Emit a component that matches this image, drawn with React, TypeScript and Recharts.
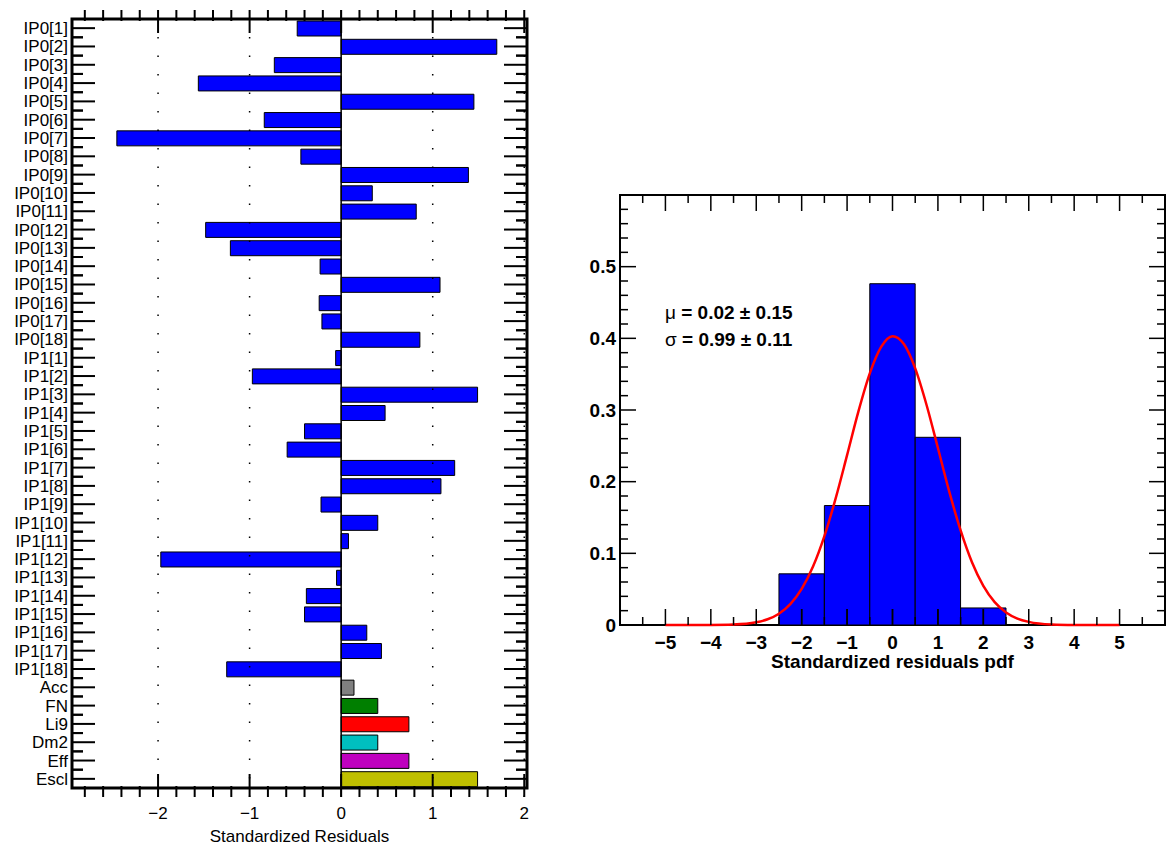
import React from 'react';
import {
  BarChart,
  ComposedChart,
  Bar,
  Line,
  Cell,
  XAxis,
  YAxis,
  ReferenceLine,
  ReferenceArea,
} from 'recharts';

// ---- left panel: standardized residual per nuisance parameter ----
const PARAMS = [
  'IP0[1]', 'IP0[2]', 'IP0[3]', 'IP0[4]', 'IP0[5]', 'IP0[6]', 'IP0[7]', 'IP0[8]', 'IP0[9]',
  'IP0[10]', 'IP0[11]', 'IP0[12]', 'IP0[13]', 'IP0[14]', 'IP0[15]', 'IP0[16]', 'IP0[17]', 'IP0[18]',
  'IP1[1]', 'IP1[2]', 'IP1[3]', 'IP1[4]', 'IP1[5]', 'IP1[6]', 'IP1[7]', 'IP1[8]', 'IP1[9]',
  'IP1[10]', 'IP1[11]', 'IP1[12]', 'IP1[13]', 'IP1[14]', 'IP1[15]', 'IP1[16]', 'IP1[17]', 'IP1[18]',
  'Acc', 'FN', 'Li9', 'Dm2', 'Eff', 'Escl',
];
const RESIDUALS = [
  -0.48, 1.7, -0.73, -1.56, 1.45, -0.84, -2.45, -0.44, 1.39,
  0.34, 0.82, -1.48, -1.21, -0.23, 1.08, -0.24, -0.21, 0.86,
  -0.06, -0.97, 1.49, 0.48, -0.4, -0.59, 1.24, 1.09, -0.22,
  0.4, 0.08, -1.97, -0.05, -0.38, -0.4, 0.28, 0.44, -1.25,
  0.14, 0.4, 0.74, 0.4, 0.74, 1.49,
];
const RESID_TICKS = [
  -2.8, -2.6, -2.4, -2.2, -2, -1.8, -1.6, -1.4, -1.2, -1, -0.8, -0.6, -0.4, -0.2,
  0, 0.2, 0.4, 0.6, 0.8, 1, 1.2, 1.4, 1.6, 1.8, 2,
];
const RESID_GRID = [-2, -1, 1, 2];

// ---- right panel: pdf of the residuals + fitted gaussian ----
const BIN_CENTERS = [-2, -1, 0, 1, 2];
const BIN_PDF = [0.0714, 0.1667, 0.4762, 0.2619, 0.0238];
const CURVE_X = [
  -5, -4.5, -4, -3.5, -3, -2.75, -2.5, -2.25, -2, -1.75, -1.5, -1.25, -1, -0.75, -0.5, -0.25,
  0, 0.25, 0.5, 0.75, 1, 1.25, 1.5, 1.75, 2, 2.25, 2.5, 2.75, 3, 3.5, 4, 4.5, 5,
];
const CURVE_Y = [
  0, 0, 0.0001, 0.0007, 0.0038, 0.008, 0.0158, 0.0291, 0.0503, 0.0815, 0.124, 0.177, 0.237, 0.298, 0.351, 0.388,
  0.403, 0.392, 0.358, 0.307, 0.247, 0.186, 0.132, 0.0876, 0.0546, 0.0319, 0.0175, 0.009, 0.0044, 0.0008, 0.0001, 0, 0,
];
const PDF_X_TICKS = [
  -5.5, -5, -4.5, -4, -3.5, -3, -2.5, -2, -1.5, -1, -0.5, 0, 0.5, 1, 1.5, 2, 2.5, 3, 3.5, 4, 4.5, 5, 5.5,
];
const PDF_Y_TICKS = [
  0, 0.02, 0.04, 0.06, 0.08, 0.1, 0.12, 0.14, 0.16, 0.18, 0.2, 0.22, 0.24, 0.26, 0.28,
  0.3, 0.32, 0.34, 0.36, 0.38, 0.4, 0.42, 0.44, 0.46, 0.48, 0.5, 0.52, 0.54, 0.56, 0.58,
];

const FONT = '"Liberation Sans", Arial, Helvetica, sans-serif';

const BAR_COLORS: Record<string, string> = {
  Acc: '#808080',
  FN: '#007f00',
  Li9: '#ff0000',
  Dm2: '#00bfbf',
  Eff: '#bf00bf',
  Escl: '#bfbf00',
};
const IP_COLOR = '#0000ff';

// left panel geometry (chart sits at page origin)
const L_W = 540;
const L_H = 847;
const L_TOP = 10;
const L_LEFT = 72;
const L_RIGHT = 527;
const L_BOTTOM = 797;
const L_PAD = 9;
const L_STEP = (L_BOTTOM - L_TOP - 2 * L_PAD) / PARAMS.length;
const L_FONT = 17;

// right panel geometry (page coords, chart placed at R_X0)
const R_X0 = 560;
const R_W = 607;
const R_H = 700;
const R_TOP = 195;
const R_LEFT = 620;
const R_RIGHT = 1165;
const R_BOTTOM = 625;
// same edges in the chart's own svg coords
const RL = R_LEFT - R_X0;
const RR = R_RIGHT - R_X0;
const R_YMAX = 0.6;
// major x tick length (16px) expressed in y data units, used to redraw ticks over the bins
const R_TICK_DATA = (16 / (R_BOTTOM - R_TOP)) * R_YMAX;

const isInt = (v: number) => Math.abs(v - Math.round(v)) < 1e-6;
const fmtMinus = (v: number) => (v < 0 ? `\u2212${Math.abs(v)}` : `${v}`);

const ParamTick = (props: any) => {
  const { y, payload } = props;
  const half = L_STEP / 2;
  return (
    <g stroke="#000" strokeWidth={2}>
      <text
        x={L_LEFT - 4}
        y={y}
        dy={6}
        textAnchor="end"
        fontSize={L_FONT}
        fontFamily={FONT}
        fill="#000"
        stroke="none"
      >
        {payload.value}
      </text>
      <line x1={L_LEFT} x2={L_LEFT + 23} y1={y} y2={y} />
      <line x1={L_RIGHT} x2={L_RIGHT - 23} y1={y} y2={y} />
      <line x1={L_LEFT} x2={L_LEFT + 11} y1={y - half} y2={y - half} />
      <line x1={L_RIGHT} x2={L_RIGHT - 11} y1={y - half} y2={y - half} />
      <line x1={L_LEFT} x2={L_LEFT + 11} y1={y + half} y2={y + half} />
      <line x1={L_RIGHT} x2={L_RIGHT - 11} y1={y + half} y2={y + half} />
    </g>
  );
};

const ResidTick = (props: any) => {
  const { x, payload } = props;
  const v = payload.value as number;
  const major = isInt(v);
  const len = major ? 23 : 11;
  return (
    <g stroke="#000" strokeWidth={2}>
      <line x1={x} x2={x} y1={L_BOTTOM} y2={L_BOTTOM - len} />
      <line x1={x} x2={x} y1={L_TOP} y2={L_TOP + len} />
      {major && (
        <text
          x={x}
          y={L_BOTTOM + 22}
          textAnchor="middle"
          fontSize={L_FONT}
          fontFamily={FONT}
          fill="#000"
          stroke="none"
        >
          {fmtMinus(Math.round(v))}
        </text>
      )}
    </g>
  );
};

const PdfXTick = (props: any) => {
  const { x, payload } = props;
  const v = payload.value as number;
  const major = isInt(v);
  const len = major ? 16 : 8;
  return (
    <g stroke="#000" strokeWidth={1.5}>
      <line x1={x} x2={x} y1={R_BOTTOM} y2={R_BOTTOM - len} />
      <line x1={x} x2={x} y1={R_TOP} y2={R_TOP + len} />
      {major && (
        <text
          x={x}
          y={R_BOTTOM + 24}
          textAnchor="middle"
          fontSize={19}
          fontWeight="bold"
          fontFamily={FONT}
          fill="#000"
          stroke="none"
        >
          {fmtMinus(Math.round(v))}
        </text>
      )}
    </g>
  );
};

const PdfYTick = (props: any) => {
  const { y, payload } = props;
  const v = payload.value as number;
  const major = isInt(v * 10);
  const len = major ? 16 : 8;
  return (
    <g stroke="#000" strokeWidth={1.5}>
      <line x1={RL} x2={RL + len} y1={y} y2={y} />
      <line x1={RR} x2={RR - len} y1={y} y2={y} />
      {major && (
        <text
          x={RL - 4}
          y={y}
          dy={6.7}
          textAnchor="end"
          fontSize={19}
          fontWeight="bold"
          fontFamily={FONT}
          fill="#000"
          stroke="none"
        >
          {v === 0 ? '0' : v.toFixed(1)}
        </text>
      )}
    </g>
  );
};

export default function App() {
  const residData = PARAMS.map((name, i) => ({ name, value: RESIDUALS[i] }));
  const histData = BIN_CENTERS.map((x, i) => ({ x, p: BIN_PDF[i] }));
  const curveData = CURVE_X.map((x, i) => ({ x, f: CURVE_Y[i] }));
  // a hair under the band size so recharts does not shrink the bins by 10%
  const binWidthPx = (R_RIGHT - R_LEFT) / 12 - 0.05;

  return (
    <div
      style={{
        position: 'absolute',
        left: 0,
        top: 0,
        width: 1167,
        height: 847,
        background: '#fff',
        fontFamily: FONT,
      }}
    >
      {/* left: residual bars */}
      <div style={{ position: 'absolute', left: 0, top: 0 }}>
        <BarChart
          width={L_W}
          height={L_H}
          data={residData}
          layout="vertical"
          margin={{ top: L_TOP, right: L_W - L_RIGHT, bottom: 0, left: 0 }}
        >
          <XAxis
            type="number"
            domain={[-2.94, 2.03]}
            ticks={RESID_TICKS}
            interval={0}
            height={L_H - L_BOTTOM}
            tick={<ResidTick />}
            tickLine={false}
            axisLine={false}
            allowDataOverflow
          />
          <YAxis
            type="category"
            dataKey="name"
            width={L_LEFT}
            interval={0}
            padding={{ top: L_PAD, bottom: L_PAD }}
            tick={<ParamTick />}
            tickLine={false}
            axisLine={false}
          />
          {RESID_GRID.map((g) => (
            <ReferenceLine key={g} x={g} stroke="#000" strokeWidth={1.5} strokeDasharray="1.5 17" />
          ))}
          <Bar
            dataKey="value"
            barSize={15}
            stroke="#000"
            strokeWidth={1}
            isAnimationActive={false}
          >
            {residData.map((d) => (
              <Cell key={d.name} fill={BAR_COLORS[d.name] ?? IP_COLOR} />
            ))}
          </Bar>
          <ReferenceLine x={0} stroke="#000" strokeWidth={1.5} />
          <ReferenceArea
            x1={-2.94}
            x2={2.03}
            fill="none"
            stroke="#000"
            strokeWidth={3}
            ifOverflow="visible"
          />
        </BarChart>
      </div>
      <div
        style={{
          position: 'absolute',
          left: L_LEFT,
          width: L_RIGHT - L_LEFT,
          top: 827,
          lineHeight: '20px',
          fontSize: L_FONT,
          textAlign: 'center',
        }}
      >
        Standardized Residuals
      </div>

      {/* right: residual pdf */}
      <div style={{ position: 'absolute', left: R_X0, top: 0 }}>
        <ComposedChart
          width={R_W}
          height={R_H}
          data={histData}
          barCategoryGap="0%"
          barGap={0}
          margin={{ top: R_TOP, right: R_X0 + R_W - R_RIGHT, bottom: 0, left: 0 }}
        >
          <XAxis xAxisId="curve" type="number" dataKey="x" domain={[-6, 6]} hide />
          <YAxis
            type="number"
            domain={[0, R_YMAX]}
            ticks={PDF_Y_TICKS}
            interval={0}
            width={RL}
            tick={<PdfYTick />}
            tickLine={false}
            axisLine={false}
          />
          <Bar
            xAxisId="main"
            dataKey="p"
            fill="#0000ff"
            stroke="#000"
            strokeWidth={1}
            barSize={binWidthPx}
            isAnimationActive={false}
          />
          <Line
            xAxisId="curve"
            data={curveData}
            dataKey="f"
            type="monotone"
            stroke="#ff0000"
            strokeWidth={2.5}
            dot={false}
            isAnimationActive={false}
          />
          <XAxis
            xAxisId="main"
            type="number"
            dataKey="x"
            domain={[-6, 6]}
            ticks={PDF_X_TICKS}
            interval={0}
            height={R_H - R_BOTTOM}
            tick={<PdfXTick />}
            tickLine={false}
            axisLine={false}
          />
          {/* axis ticks show through the bins in the original */}
          {BIN_CENTERS.map((c) => (
            <ReferenceLine
              key={c}
              xAxisId="main"
              segment={[
                { x: c, y: 0 },
                { x: c, y: R_TICK_DATA },
              ]}
              stroke="#000"
              strokeWidth={1.5}
            />
          ))}
          <ReferenceArea
            xAxisId="main"
            x1={-6}
            x2={6}
            y1={0}
            y2={R_YMAX}
            fill="none"
            stroke="#000"
            strokeWidth={2}
            ifOverflow="visible"
          />
        </ComposedChart>
      </div>
      <div
        style={{
          position: 'absolute',
          left: 665,
          top: 299,
          fontSize: 19,
          lineHeight: '27px',
          fontWeight: 'bold',
        }}
      >
        <div>
          <span style={{ fontWeight: 'normal' }}>μ</span> = 0.02 ± 0.15
        </div>
        <div>
          <span style={{ fontWeight: 'normal' }}>σ</span> = 0.99 ± 0.11
        </div>
      </div>
      <div
        style={{
          position: 'absolute',
          left: R_LEFT,
          width: R_RIGHT - R_LEFT,
          top: 651,
          lineHeight: '22px',
          fontSize: 19,
          fontWeight: 'bold',
          textAlign: 'center',
        }}
      >
        Standardized residuals pdf
      </div>
    </div>
  );
}
